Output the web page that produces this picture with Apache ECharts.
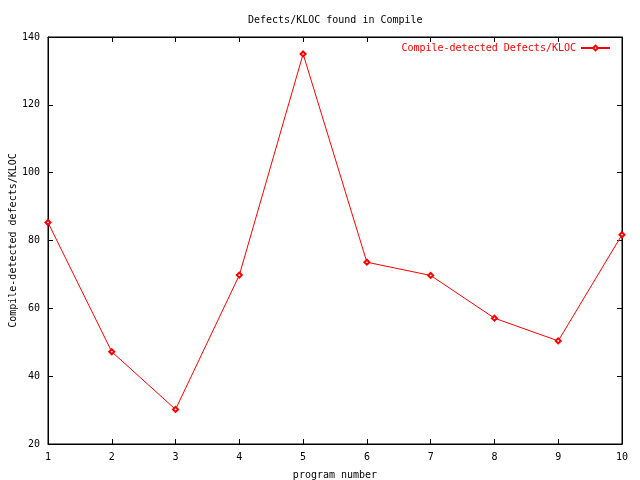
<!DOCTYPE html>
<html>
<head>
<meta charset="utf-8">
<script src="https://cdn.jsdelivr.net/npm/echarts@6/dist/echarts.min.js"></script>
<style>html,body{margin:0;padding:0;background:#fff;}#c{width:640px;height:480px;}</style>
</head>
<body>
<div id="c"></div>
<script>
const categories = [1, 2, 3, 4, 5, 6, 7, 8, 9, 10];
const defectsPerKloc = [85.3, 47.2, 30.2, 69.8, 135.0, 73.6, 69.7, 57.1, 50.4, 81.7];
const yTicks = [20, 40, 60, 80, 100, 120, 140];

const font = 'DejaVu Sans Mono';
const chart = echarts.init(document.getElementById('c'));
const tick = {show: true, inside: true, length: 5, lineStyle: {color: '#000', width: 1}};
chart.setOption({
  animation: false,
  backgroundColor: '#fff',
  title: {
    text: 'Defects/KLOC found in Compile',
    left: 243, top: 10,
    textStyle: {fontFamily: font, fontSize: 10, fontWeight: 'normal', color: '#000'}
  },
  legend: {
    right: 24, top: 38, align: 'right', itemWidth: 29, itemHeight: 6, itemGap: 5,
    data: ['Compile-detected Defects/KLOC'],
    textStyle: {fontFamily: font, fontSize: 10, color: '#ff0000'}
  },
  grid: {left: 48, right: 18, top: 37, bottom: 36, show: true, borderColor: '#000', borderWidth: 1,
         containLabel: false, outerBoundsMode: 'none'},
  xAxis: [{
    type: 'value', min: 1, max: 10, interval: 1,
    name: 'program number', nameLocation: 'middle', nameGap: 26, nameMoveOverlap: false,
    nameTextStyle: {fontFamily: font, fontSize: 10, color: '#000'},
    axisLine: {show: true, lineStyle: {color: '#000'}},
    axisTick: tick,
    axisLabel: {fontFamily: font, fontSize: 10, color: '#000', margin: 8},
    splitLine: {show: false}
  }, {
    type: 'value', min: 1, max: 10, interval: 1, position: 'top',
    axisLine: {show: true, lineStyle: {color: '#000'}},
    axisTick: tick, axisLabel: {show: false}, splitLine: {show: false}
  }],
  yAxis: [{
    type: 'value', min: yTicks[0], max: yTicks[yTicks.length - 1], interval: 20,
    name: 'Compile-detected defects/KLOC', nameLocation: 'middle', nameGap: 30, nameRotate: 90,
    nameMoveOverlap: false,
    nameTextStyle: {fontFamily: font, fontSize: 10, color: '#000'},
    axisLine: {show: true, lineStyle: {color: '#000'}},
    axisTick: tick,
    axisLabel: {fontFamily: font, fontSize: 10, color: '#000', margin: 8},
    splitLine: {show: false}
  }, {
    type: 'value', min: yTicks[0], max: yTicks[yTicks.length - 1], interval: 20, position: 'right',
    axisLine: {show: true, lineStyle: {color: '#000'}},
    axisTick: tick, axisLabel: {show: false}, splitLine: {show: false}
  }],
  series: [{
    name: 'Compile-detected Defects/KLOC',
    type: 'line',
    data: categories.map((c, i) => [c, defectsPerKloc[i]]),
    symbol: 'emptyDiamond', symbolSize: 5, showAllSymbol: true,
    itemStyle: {color: '#ff0000', borderWidth: 1},
    lineStyle: {color: '#ff0000', width: 1}
  }]
});
</script>
</body>
</html>
